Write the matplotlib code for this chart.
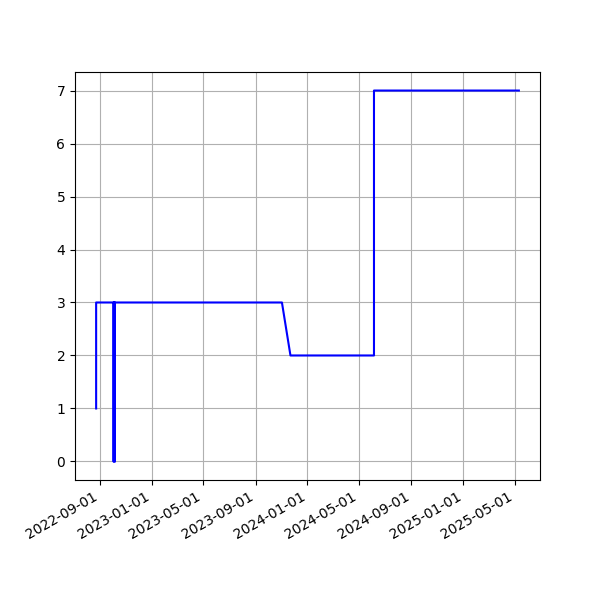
import matplotlib
matplotlib.use("Agg")
import matplotlib.pyplot as plt
import pandas as pd
import matplotlib.dates as mdates

dates = ["2022-08-23", "2022-08-23",
         "2022-10-03", "2022-10-03", "2022-10-03",
         "2022-10-06", "2022-10-06", "2022-10-06",
         "2023-11-02", "2023-11-22", "2024-06-05", "2024-06-05", "2025-05-11"]
values = [1, 3, 3, 0, 3, 3, 0, 3, 3, 2, 2, 7, 7]

x = pd.to_datetime(dates)

fig, ax = plt.subplots(figsize=(6, 6), dpi=100)
ax.plot(x, values, color="blue")
ax.grid(True)
ax.xaxis.set_major_locator(mdates.MonthLocator(bymonth=[1, 5, 9], bymonthday=1))
ax.xaxis.set_major_formatter(mdates.DateFormatter("%Y-%m-%d"))
fig.autofmt_xdate()
fig.savefig("out.png")
